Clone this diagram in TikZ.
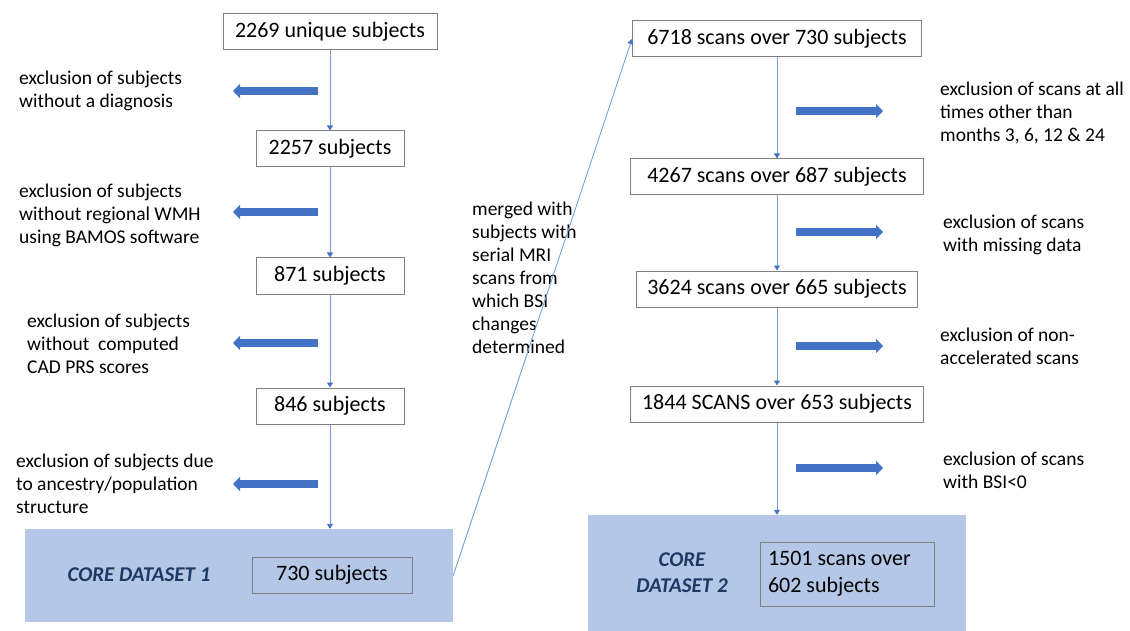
\documentclass[tikz,border=0pt]{standalone}
\usepackage{fontspec}
\setmainfont{Carlito}
\usetikzlibrary{arrows.meta,positioning}
\definecolor{linkblue}{HTML}{7C9DDB}
\definecolor{fatblue}{HTML}{4472C4}
\definecolor{corefill}{HTML}{B4C7E7}
\definecolor{coretext}{HTML}{1F3864}
\definecolor{boxline}{HTML}{808080}

\begin{document}
\begin{tikzpicture}[x=1pt,y=-1pt,
	box/.style={draw=boxline,line width=1pt,minimum height=36pt,inner sep=0pt,font=\fontsize{22}{27}\selectfont},
	note/.style={anchor=west,align=left,inner sep=0pt,font=\fontsize{19.5}{23}\selectfont},
	corelabel/.style={align=center,text=coretext,font=\fontsize{21}{26}\selectfont\bfseries\itshape},
	core/.style={fill=corefill,inner sep=0pt},
	link/.style={draw=linkblue,line width=0.9pt,-{Triangle[length=5pt,width=6pt,color=fatblue]}},
	fat/.style={draw=fatblue,line width=7.5pt,-{Triangle[length=7pt,width=14pt]}}]
	\useasboundingbox (0,0) rectangle (1130,631);
	% left column
	\node[box,minimum width=214pt] (s1) at (330,32) {2269 unique subjects};
	\node[box,minimum width=148pt] (s2) [node distance=117pt,below of=s1] {2257 subjects};
	\node[box,minimum width=148pt] (s3) [node distance=127pt,below of=s2] {871 subjects};
	\node[box,minimum width=148pt] (s4) [node distance=130pt,below of=s3] {846 subjects};
	\node[core,minimum width=428pt,minimum height=93pt] (c1) at (239,575.5) {};
	\node[corelabel] (c1lab) at (139,575) {CORE DATASET 1};
	\node[box,minimum width=160pt] (d1) at (332,575) {730 subjects};
	% right column
	\node[box,minimum width=289pt] (r1) at (777,39) {6718 scans over 730 subjects};
	\node[box,minimum width=293pt] (r2) [node distance=138pt,below of=r1] {4267 scans over 687 subjects};
	\node[box,minimum width=281pt] (r3) [node distance=112pt,below of=r2] {3624 scans over 665 subjects};
	\node[box,minimum width=293pt] (r4) [node distance=115pt,below of=r3] {1844 SCANS over 653 subjects};
	\node[core,minimum width=378pt,minimum height=116pt] (c2) at (777,573) {};
	\node[corelabel] (c2lab) at (682,573) {CORE\\DATASET 2};
	\node[box,minimum width=174pt,minimum height=64pt,align=flush left,text width=158pt] (d2) at (847,574) {1501 scans over\\602 subjects};
	% exclusion notes
	\node[note] (t1) at (19,91) {exclusion of subjects\\without a diagnosis};
	\node[note] (t2) at (19,215) {exclusion of subjects\\without regional WMH\\using BAMOS software};
	\node[note] (t3) at (27,344) {exclusion of subjects\\without\ \ computed\\CAD PRS scores};
	\node[note] (t4) at (16,484) {exclusion of subjects due\\to ancestry/population\\structure};
	\node[note] (t5) at (940,113) {exclusion of scans at all\\times other than\\months 3, 6, 12 \& 24};
	\node[note] (t6) at (943,235) {exclusion of scans\\with missing data};
	\node[note] (t7) at (940,346) {exclusion of non-\\accelerated scans};
	\node[note] (t8) at (943,470) {exclusion of scans\\with BSI<0};
	\node[note] (m) at (472,278) {merged with\\subjects with\\serial MRI\\scans from\\which BSI\\changes\\determined};
	% flow lines
	\draw[link] (s1) -- (s2);
	\draw[link] (s2) -- (s3);
	\draw[link] (s3) -- (s4);
	\draw[link] (s4) -- (s4 |- c1.north);
	\draw[link] (r1) -- (r2);
	\draw[link] (r2) -- (r3);
	\draw[link] (r3) -- (r4);
	\draw[link] (r4) -- (r4 |- c2.north);
	\draw[link] (c1.east) -- (r1.west);
	% exclusion arrows
	\foreach \y [count=\i] in {91,212,343,484} {
		\coordinate (la\i) at (318,\y);
		\coordinate (lb\i) at (233,\y);
		\draw[fat] (la\i) -- (lb\i);
	}
	\foreach \y [count=\i] in {111,232,346,468} {
		\coordinate (ra\i) at (796,\y);
		\coordinate (rb\i) at (883,\y);
		\draw[fat] (ra\i) -- (rb\i);
	}
\end{tikzpicture}
\end{document}
